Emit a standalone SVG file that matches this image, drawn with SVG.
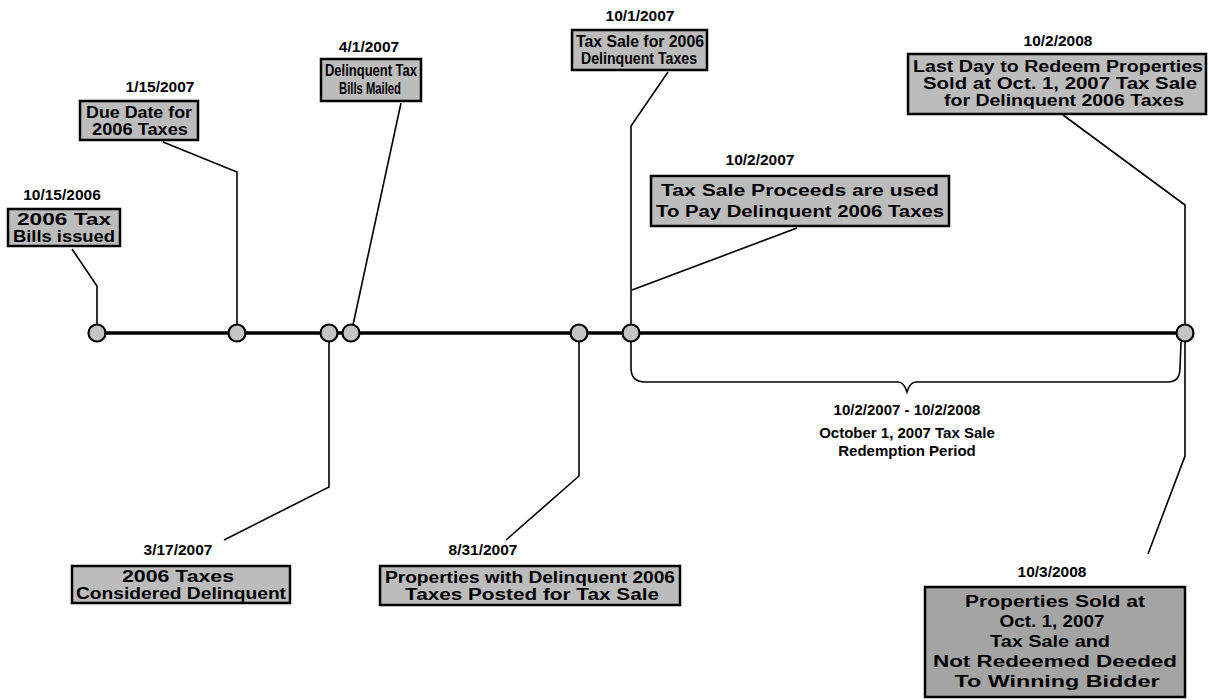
<svg xmlns="http://www.w3.org/2000/svg" width="1209" height="700" viewBox="0 0 1209 700">
<style>
.bg{fill:#ffffff}
.box{fill:#bcbcbc;stroke:#000;stroke-width:2.5}
.dark{fill:#a4a4a4}
.bt{font-family:"Liberation Sans",Arial,sans-serif;font-weight:bold;font-size:16px;fill:#000;text-anchor:middle}
.dt{font-family:"Liberation Sans",Arial,sans-serif;font-weight:bold;font-size:15.5px;fill:#000;text-anchor:middle}
.rt{font-family:"Liberation Sans",Arial,sans-serif;font-weight:bold;font-size:15px;fill:#000;text-anchor:middle}
.ln{fill:none;stroke:#000;stroke-width:1.6}
.tl{fill:none;stroke:#000;stroke-width:3.5}
.dot{fill:#c4c4c4;stroke:#000;stroke-width:2.2}
</style>
<rect class="bg" x="0" y="0" width="1209" height="700"/>

<g id="connectors">
<line class="tl" x1="97" y1="333" x2="1186" y2="333"/>
<polyline class="ln" points="72,249 97,286 97,326"/>
<polyline class="ln" points="163,142 237,172 237,326"/>
<polyline class="ln" points="401,103 353,325"/>
<polyline class="ln" points="668,72 631,126 631,326"/>
<polyline class="ln" points="797,228 632,290"/>
<polyline class="ln" points="1063,115 1185,205 1185,326"/>
<polyline class="ln" points="329,341 329,487 224,540"/>
<polyline class="ln" points="579,341 579,476 506,540"/>
<polyline class="ln" points="1185,341 1185,456 1148,554"/>
<path class="ln" d="M631,342 L631,368 Q631,382 645,382 L898,382 Q904,382 907,392 Q910,382 916,382 L1168,382 Q1180,382 1180,368 L1181,342"/>
</g>

<g id="dots">
<circle class="dot" cx="97" cy="333" r="8.5"/>
<circle class="dot" cx="237" cy="333" r="8.5"/>
<circle class="dot" cx="329" cy="333" r="8.5"/>
<circle class="dot" cx="351" cy="333" r="8.5"/>
<circle class="dot" cx="579" cy="333" r="8.5"/>
<circle class="dot" cx="631" cy="333" r="8.5"/>
<circle class="dot" cx="1185" cy="333" r="8.5"/>
</g>

<g id="n1">
<text class="dt" x="62" y="200">10/15/2006</text>
<rect class="box" x="8" y="209" width="112" height="37"/>
<text class="bt" x="64" y="225" textLength="94" lengthAdjust="spacingAndGlyphs">2006 Tax</text>
<text class="bt" x="64" y="242" textLength="102" lengthAdjust="spacingAndGlyphs">Bills issued</text>
</g>

<g id="n2">
<text class="dt" x="160" y="92">1/15/2007</text>
<rect class="box" x="80" y="101" width="118" height="39"/>
<text class="bt" x="139" y="118" textLength="106" lengthAdjust="spacingAndGlyphs">Due Date for</text>
<text class="bt" x="140" y="135" textLength="96" lengthAdjust="spacingAndGlyphs">2006 Taxes</text>
</g>

<g id="n3">
<text class="dt" x="369" y="52">4/1/2007</text>
<rect class="box" x="321" y="59" width="100" height="42"/>
<text class="bt" x="371" y="76" textLength="92" lengthAdjust="spacingAndGlyphs">Delinquent Tax</text>
<text class="bt" x="370" y="94" textLength="62" lengthAdjust="spacingAndGlyphs">Bills Mailed</text>
</g>

<g id="n4">
<text class="dt" x="640" y="21">10/1/2007</text>
<rect class="box" x="572" y="30" width="135" height="40"/>
<text class="bt" x="640" y="47" textLength="128" lengthAdjust="spacingAndGlyphs">Tax Sale for 2006</text>
<text class="bt" x="639" y="64" textLength="116" lengthAdjust="spacingAndGlyphs">Delinquent Taxes</text>
</g>

<g id="n5">
<text class="dt" x="760" y="165">10/2/2007</text>
<rect class="box" x="651" y="176" width="298" height="50"/>
<text class="bt" x="800" y="196" textLength="278" lengthAdjust="spacingAndGlyphs">Tax Sale Proceeds are used</text>
<text class="bt" x="800" y="217" textLength="288" lengthAdjust="spacingAndGlyphs">To Pay Delinquent 2006 Taxes</text>
</g>

<g id="n6">
<text class="dt" x="1058" y="46">10/2/2008</text>
<rect class="box" x="908" y="54" width="298" height="60"/>
<text class="bt" x="1058" y="72" textLength="290" lengthAdjust="spacingAndGlyphs">Last Day to Redeem Properties</text>
<text class="bt" x="1060" y="89" textLength="274" lengthAdjust="spacingAndGlyphs">Sold at Oct. 1, 2007 Tax Sale</text>
<text class="bt" x="1064" y="106" textLength="240" lengthAdjust="spacingAndGlyphs">for Delinquent 2006 Taxes</text>
</g>

<g id="n7">
<text class="dt" x="178" y="555">3/17/2007</text>
<rect class="box" x="72" y="566" width="218" height="37"/>
<text class="bt" x="178" y="582" textLength="112" lengthAdjust="spacingAndGlyphs">2006 Taxes</text>
<text class="bt" x="181" y="599" textLength="210" lengthAdjust="spacingAndGlyphs">Considered Delinquent</text>
</g>

<g id="n8">
<text class="dt" x="483" y="555">8/31/2007</text>
<rect class="box" x="380" y="566" width="300" height="39"/>
<text class="bt" x="530" y="583" textLength="290" lengthAdjust="spacingAndGlyphs">Properties with Delinquent 2006</text>
<text class="bt" x="532" y="600" textLength="254" lengthAdjust="spacingAndGlyphs">Taxes Posted for Tax Sale</text>
</g>

<g id="n9">
<text class="dt" x="1052" y="577">10/3/2008</text>
<rect class="box dark" x="925" y="587" width="260" height="110"/>
<text class="bt" x="1055" y="607" textLength="180" lengthAdjust="spacingAndGlyphs">Properties Sold at</text>
<text class="bt" x="1052" y="627" textLength="105" lengthAdjust="spacingAndGlyphs">Oct. 1, 2007</text>
<text class="bt" x="1050" y="647" textLength="120" lengthAdjust="spacingAndGlyphs">Tax Sale  and</text>
<text class="bt" x="1055" y="667" textLength="244" lengthAdjust="spacingAndGlyphs">Not Redeemed Deeded</text>
<text class="bt" x="1057" y="687" textLength="205" lengthAdjust="spacingAndGlyphs">To Winning Bidder</text>
</g>

<g id="n10">
<text class="rt" x="907" y="415">10/2/2007 - 10/2/2008</text>
<text class="rt" x="907" y="438">October 1, 2007 Tax Sale</text>
<text class="rt" x="907" y="456">Redemption Period</text>
</g>
</svg>
